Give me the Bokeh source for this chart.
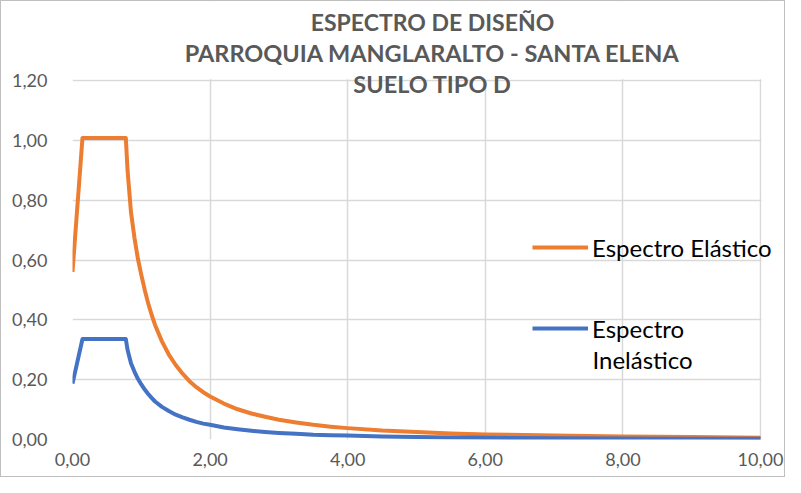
from bokeh.plotting import figure
from bokeh.models import (Range1d, CustomJSTickFormatter, FixedTicker, Legend, LegendItem,
                          Label, BoxAnnotation)
from bokeh.embed import file_html
from bokeh.resources import INLINE

# ---- data ----
periodo = [0.00, 0.145, 0.775, 0.80, 0.85, 0.90, 0.95, 1.00, 1.05, 1.10, 1.15, 1.20, 1.30,
           1.40, 1.50, 1.60, 1.70, 1.80, 1.90, 2.00, 2.20, 2.40, 2.60, 2.80, 3.00, 3.25,
           3.50, 3.75, 4.00, 4.50, 5.00, 5.50, 6.00, 7.00, 8.00, 9.00, 10.00]
espectro_elastico = [0.560, 1.008, 1.008, 0.900, 0.760, 0.675, 0.605, 0.550, 0.500, 0.455,
                     0.417, 0.383, 0.328, 0.284, 0.249, 0.220, 0.195, 0.175, 0.158, 0.144,
                     0.120, 0.101, 0.087, 0.076, 0.066, 0.057, 0.049, 0.043, 0.038, 0.030,
                     0.025, 0.020, 0.017, 0.013, 0.010, 0.008, 0.006]
espectro_inelastico = [0.187, 0.336, 0.336, 0.300, 0.255, 0.227, 0.203, 0.184, 0.167, 0.152,
                       0.139, 0.127, 0.109, 0.095, 0.083, 0.074, 0.066, 0.059, 0.053, 0.049,
                       0.040, 0.034, 0.029, 0.025, 0.022, 0.019, 0.016, 0.0145, 0.013, 0.010,
                       0.0083, 0.0068, 0.0057, 0.0043, 0.0033, 0.0027, 0.0021]
x_ticks = [0, 2, 4, 6, 8, 10]
y_ticks = [0.0, 0.2, 0.4, 0.6, 0.8, 1.0, 1.2]
titulo = ["ESPECTRO DE DISEÑO", "PARROQUIA MANGLARALTO - SANTA ELENA", "SUELO TIPO D"]
serie_nombres = ["Espectro Elástico", "Espectro", "Inelástico"]

# ---- geometry ----
W, H = 785, 477
left, bottom = 71, 39
plot_w, plot_h = 688, 359          # pixels spanned by 0..10 and 0..1.2
frame_w, frame_h = W - left, H - bottom
x_end = x_ticks[-1] * frame_w / plot_w
y_end = y_ticks[-1] * frame_h / plot_h

p = figure(width=W, height=H, output_backend="svg", toolbar_location=None,
           x_range=Range1d(0, x_end), y_range=Range1d(0, y_end),
           min_border_left=left, min_border_right=0, min_border_top=0,
           min_border_bottom=bottom)
p.outline_line_color = None
p.background_fill_color = "white"
p.border_fill_color = "white"
p.styles = {"border": "1px solid #bfbfbf"}

fmt = CustomJSTickFormatter(code="return tick.toFixed(2).replace('.', ',');")
p.xaxis.ticker = FixedTicker(ticks=x_ticks)
p.yaxis.ticker = FixedTicker(ticks=y_ticks)
for ax in (p.xaxis[0], p.yaxis[0]):
    ax.formatter = fmt
    ax.axis_line_color = None
    ax.major_tick_line_color = None
    ax.minor_tick_line_color = None
    ax.major_tick_out = 0
    ax.major_tick_in = 0
    ax.major_label_text_font = "Lato"
    ax.major_label_text_font_size = "18px"
    ax.major_label_text_color = "#595959"
p.yaxis.major_label_standoff = 25
p.xaxis.major_label_standoff = 13
p.grid.grid_line_color = "#d9d9d9"
p.grid.grid_line_width = 1.5

# white masks so the grid stops at the last ticks (plot area 0..10 x 0..1.2)
p.add_layout(BoxAnnotation(bottom=y_ticks[-1] + 0.004, fill_color="white", fill_alpha=1,
                           line_color=None, level="underlay"))
p.add_layout(BoxAnnotation(left=x_ticks[-1] + 0.015, fill_color="white", fill_alpha=1,
                           line_color=None, level="underlay"))

r1 = p.line(periodo, espectro_elastico, line_color="#ED7D31", line_width=4, line_join="round")
r2 = p.line(periodo, espectro_inelastico, line_color="#4472C4", line_width=4, line_join="round")

def make_legend(label, r, loc):
    return Legend(items=[LegendItem(label=label, renderers=[r])], location=loc,
                  glyph_width=56, glyph_height=32, label_height=32, label_standoff=4,
                  padding=0, margin=0, spacing=0, border_line_color=None,
                  background_fill_alpha=0, label_text_font="Lato",
                  label_text_font_size="24px", label_text_color="#000000")

p.add_layout(make_legend(serie_nombres[0], r1, (460, 176)))
p.add_layout(make_legend(serie_nombres[1], r2, (460, 95)))
p.add_layout(Label(x=520, y=80, x_units="screen", y_units="screen", text=serie_nombres[2],
                   text_align="left", text_baseline="middle", text_font="Lato",
                   text_font_size="24px", text_color="#000000"))

for txt, yy, fs in zip(titulo, [418, 387, 356], ["23px", "23.5px", "23.5px"]):
    p.add_layout(Label(x=360, y=yy, x_units="screen", y_units="screen", text=txt,
                       text_align="center", text_baseline="middle", text_font="Lato",
                       text_font_style="bold", text_font_size=fs, text_color="#595959"))

open("out.html", "w").write(file_html(p, INLINE))
